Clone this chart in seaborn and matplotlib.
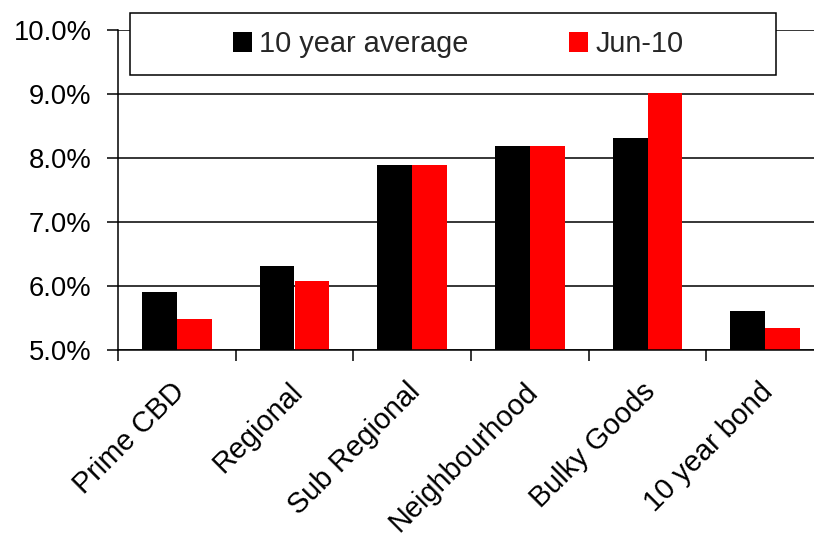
import matplotlib
matplotlib.use("Agg")
import matplotlib.pyplot as plt
import matplotlib.transforms as mtrans
from matplotlib.patches import Rectangle, Patch
from matplotlib.ticker import FuncFormatter
import seaborn as sns
import pandas as pd

# Retail property yields by segment vs the 10 year bond
segments = ["Prime CBD", "Regional", "Sub Regional", "Neighbourhood", "Bulky Goods", "10 year bond"]
avg_10yr = [5.90, 6.30, 7.89, 8.18, 8.31, 5.60]
jun_10 = [5.48, 6.07, 7.89, 8.18, 9.02, 5.34]
series_names = ["10 year average", "Jun-10"]
y_ticks = [5, 6, 7, 8, 9, 10]

sns.set_style("white")
plt.rcParams["font.family"] = ["Liberation Sans", "DejaVu Sans"]

df = pd.DataFrame({
    "segment": segments * 2,
    "series": [series_names[0]] * len(segments) + [series_names[1]] * len(segments),
    "yield": avg_10yr + jun_10,
})

W, H = 814, 538
fig = plt.figure(figsize=(W / 100, H / 100), dpi=100)
ax = fig.add_axes([118 / W, 1 - 349.5 / H, 706 / W, 319.5 / H])

colors = ["#000000", "#ff0000"]
sns.barplot(data=df, x="segment", y="yield", hue="series", palette=colors,
            width=0.59, gap=0, linewidth=0, saturation=1, errorbar=None,
            legend=False, ax=ax)

ax.set_ylim(5, 10)
ax.set_xlim(-0.5, len(segments) - 0.5)
ax.set_yticks(y_ticks)
ax.yaxis.set_major_formatter(FuncFormatter(lambda v, _: f"{v:.1f}%"))
ax.yaxis.grid(True, color="black", lw=1.1)
ax.xaxis.grid(False)
ax.set_axisbelow(True)
ax.set_xlabel("")
ax.set_ylabel("")

for side in ("top", "right"):
    ax.spines[side].set_visible(False)
for side in ("left", "bottom"):
    ax.spines[side].set_color("black")
    ax.spines[side].set_linewidth(1.1)

ax.tick_params(axis="y", left=True, direction="out", length=8, width=1.1,
               color="black", labelsize=19.7, labelcolor="black", pad=11)

# category labels centred, tick marks on the boundaries between categories
ax.set_xticks(range(len(segments)))
ax.set_xticklabels(segments, rotation=45, ha="right", va="top", rotation_mode="anchor")
ax.tick_params(axis="x", which="major", bottom=True, length=0, pad=20,
               labelsize=20.8, labelcolor="black")
ax.set_xticks([i - 0.5 for i in range(len(segments) + 1)], minor=True)
ax.tick_params(axis="x", which="minor", bottom=True, length=8, width=1.1,
               direction="out", color="black")
shift = mtrans.ScaledTranslation(-6 / 100, 0, fig.dpi_scale_trans)
for lbl in ax.get_xticklabels():
    lbl.set_transform(lbl.get_transform() + shift)

# boxed legend across the top
box = Rectangle((130 / W, 1 - 75 / H), 646 / W, 62 / H, transform=fig.transFigure,
                facecolor="white", edgecolor="black", lw=1.1, zorder=4, clip_on=False)
fig.add_artist(box)
handles = [Patch(facecolor=c, edgecolor="none") for c in colors]
leg = fig.legend(handles, series_names, loc="center", bbox_to_anchor=(458 / W, 1 - 44 / H),
                 ncol=2, frameon=False, fontsize=20.8, handlelength=0.66, handleheight=0.66,
                 handletextpad=0.24, columnspacing=3.5, borderpad=0)
leg.set_zorder(5)

fig.savefig("out.png", dpi=100)
